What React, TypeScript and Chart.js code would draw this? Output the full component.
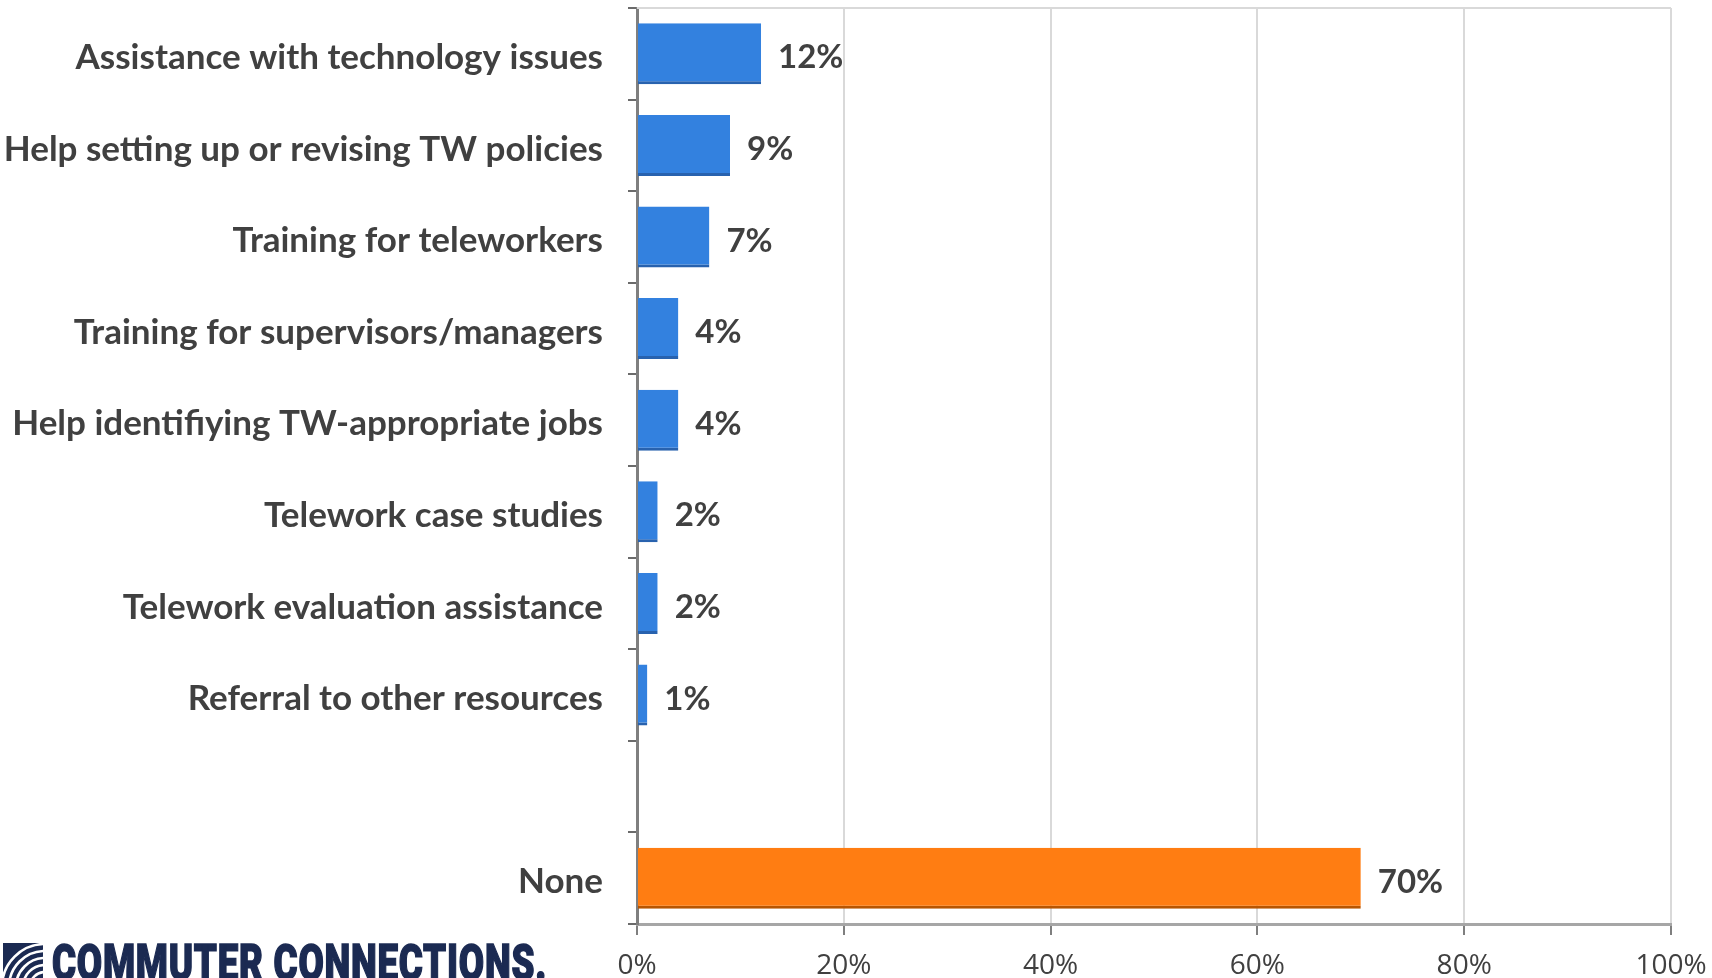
import React, { useEffect, useRef } from 'react';
import { Chart, registerables } from 'chart.js';

Chart.register(...registerables);

const categories = [
  'Assistance with technology issues',
  'Help setting up or revising TW policies',
  'Training for teleworkers',
  'Training for supervisors/managers',
  'Help identifiying TW-appropriate jobs',
  'Telework case studies',
  'Telework evaluation assistance',
  'Referral to other resources',
  '',
  'None',
];
const values: (number | null)[] = [12, 9, 7, 4, 4, 2, 2, 1, null, 70];
const barColors = ['#3381DF', '#3381DF', '#3381DF', '#3381DF', '#3381DF', '#3381DF', '#3381DF', '#3381DF', '#3381DF', '#FF7D12'];
const barEdgeColors = ['#2862AE', '#2862AE', '#2862AE', '#2862AE', '#2862AE', '#2862AE', '#2862AE', '#2862AE', '#2862AE', '#B85500'];
const xMin = 0;
const xMax = 100;
const xStep = 20;
const logoText = 'COMMUTER CONNECTIONS.';

const LABEL_FONT = 'Lato';
const TEXT_COLOR = '#404040';

const valueLabels = {
  id: 'valueLabels',
  afterDatasetsDraw(chart: any) {
    const ctx = chart.ctx;
    const meta = chart.getDatasetMeta(0);
    ctx.save();
    ctx.font = `bold 33px ${LABEL_FONT}`;
    ctx.fillStyle = TEXT_COLOR;
    ctx.textAlign = 'left';
    ctx.textBaseline = 'middle';
    meta.data.forEach((bar: any, i: number) => {
      const v = values[i];
      if (v == null) return;
      ctx.fillText(`${v}%`, bar.x + 17, bar.y + 4);
    });
    ctx.restore();
  },
};

const topFrame = {
  id: 'topFrame',
  beforeDatasetsDraw(chart: any) {
    const { ctx, chartArea } = chart;
    ctx.save();
    ctx.strokeStyle = '#D9D9D9';
    ctx.lineWidth = 2;
    ctx.beginPath();
    ctx.moveTo(chartArea.left, chartArea.top);
    ctx.lineTo(chartArea.right, chartArea.top);
    ctx.stroke();
    ctx.restore();
  },
};

function Logo() {
  const textRef = useRef<HTMLSpanElement | null>(null);
  useEffect(() => {
    const el = textRef.current;
    if (!el) return;
    const fit = () => {
      el.style.transform = 'none';
      const w = el.getBoundingClientRect().width;
      if (w > 0) el.style.transform = `scaleX(${495 / w})`;
    };
    fit();
    (document as any).fonts?.ready?.then(fit);
  }, []);
  return (
    <div style={{ position: 'absolute', left: 3, top: 937.5, height: 80, display: 'flex', alignItems: 'flex-start' }}>
      <svg width="40" height="40" viewBox="0 0 40 40" style={{ marginTop: 5.5, flex: 'none' }}>
        <rect x="0" y="0" width="40" height="40" fill="#1B2A52" />
        {[8, 15, 22, 29, 36, 43].map((r) => (
          <circle key={r} cx="42" cy="44" r={r} fill="none" stroke="#ffffff" strokeWidth="2.6" />
        ))}
      </svg>
      <span
        ref={textRef}
        style={{
          display: 'inline-block',
          flex: 'none',
          marginLeft: 9,
          fontFamily: 'Roboto, "DejaVu Sans", sans-serif',
          fontWeight: 900,
          fontSize: 50,
          lineHeight: 1,
          color: '#1B2A52',
          whiteSpace: 'nowrap',
          transformOrigin: 'left top',
          letterSpacing: '1px',
          WebkitTextStroke: '1.5px #1B2A52',
        }}
      >
        {logoText}
      </span>
    </div>
  );
}

export default function App() {
  const canvasRef = useRef<HTMLCanvasElement | null>(null);

  useEffect(() => {
    if (!canvasRef.current) return;
    const chart = new Chart(canvasRef.current, {
      type: 'bar',
      data: {
        labels: categories,
        datasets: [
          {
            data: values as any,
            backgroundColor: barColors,
            borderColor: barEdgeColors,
            borderWidth: { top: 0, right: 0, bottom: 3, left: 0 } as any,
            borderSkipped: false,
            barPercentage: 0.666,
            categoryPercentage: 1,
          },
        ],
      },
      options: {
        indexAxis: 'y',
        responsive: false,
        animation: false,
        devicePixelRatio: 1,
        layout: { padding: { top: 8, right: 41, bottom: 0, left: 0 } },
        plugins: {
          legend: { display: false },
          tooltip: { enabled: false },
        },
        scales: {
          x: {
            min: xMin,
            max: xMax,
            ticks: {
              stepSize: xStep,
              callback: (v: any) => `${v}%`,
              font: { family: 'Open Sans', size: 28 },
              color: TEXT_COLOR,
              padding: 14,
            },
            grid: {
              color: '#D9D9D9',
              lineWidth: 2,
              tickColor: '#7F7F7F',
              tickLength: 11,
            },
            border: { color: '#A6A6A6', width: 3 },
            afterFit: (scale: any) => {
              scale.height = 54;
              scale.paddingLeft = 0;
              scale.paddingRight = 0;
            },
          },
          y: {
            ticks: {
              font: { family: LABEL_FONT, size: 35, weight: 'bold' },
              color: TEXT_COLOR,
              padding: 25,
              labelOffset: 4,
            },
            grid: {
              display: true,
              drawOnChartArea: false,
              drawTicks: true,
              tickLength: 9,
              tickColor: '#6B6B6B',
              lineWidth: 2,
              offset: true,
            },
            border: { color: '#7F7F7F', width: 3 },
            afterFit: (scale: any) => {
              scale.width = 637;
              scale.paddingTop = 0;
              scale.paddingBottom = 0;
            },
          },
        },
      },
      plugins: [valueLabels, topFrame],
    });
    (document as any).fonts?.load?.(`bold 34px ${LABEL_FONT}`).then(() => chart.update()).catch(() => {});
    return () => chart.destroy();
  }, []);

  return (
    <div style={{ position: 'fixed', left: 0, top: 0, width: 1712, height: 978, overflow: 'hidden', background: '#ffffff' }}>
      <canvas ref={canvasRef} width={1712} height={978} style={{ display: 'block', width: 1712, height: 978 }} />
      <Logo />
    </div>
  );
}
